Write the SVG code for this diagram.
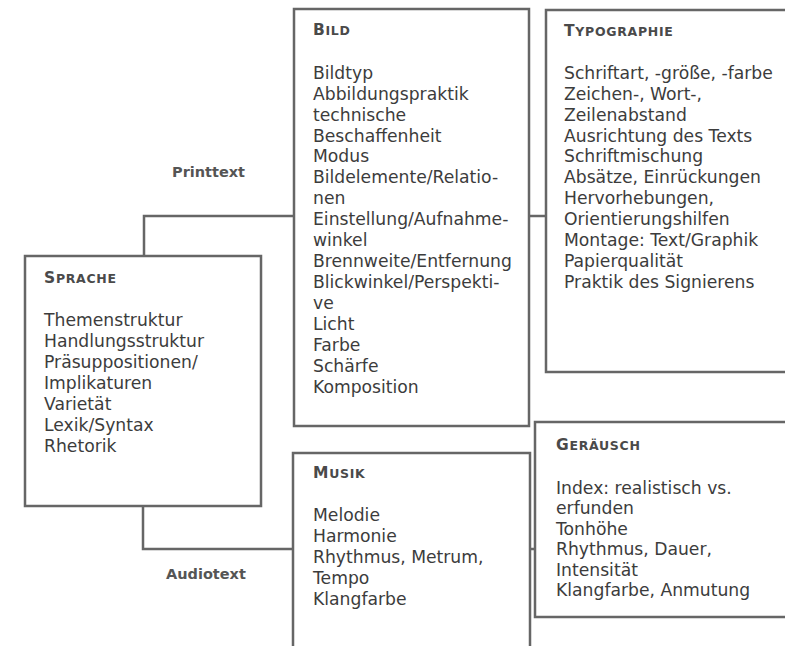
<svg xmlns="http://www.w3.org/2000/svg" width="785" height="646" viewBox="0 0 785 646">
<style>
.box{fill:#ffffff;stroke:#666;stroke-width:2.5}
.con{fill:none;stroke:#666;stroke-width:2.5}
.t{font-family:"DejaVu Sans",Verdana,sans-serif;font-size:17.2px;fill:#3c3c3c}
.h{font-family:"DejaVu Sans",Verdana,sans-serif;font-weight:bold;fill:#4a4a4a;letter-spacing:0.7px}
.h .c{font-size:15.5px}
.h .s{font-size:12.5px}
.lab{font-family:"DejaVu Sans",Verdana,sans-serif;font-weight:bold;font-size:14.5px;fill:#555}
</style>
<rect width="785" height="646" fill="#fff"/>
<g id="connectors">
<polyline class="con" points="144,256 144,216 294,216"/>
<line class="con" x1="529" y1="216" x2="546" y2="216"/>
<polyline class="con" points="143,506 143,549 293,549"/>
<line class="con" x1="530" y1="549" x2="535" y2="549"/>
<text class="lab" x="172" y="177">Printtext</text>
<text class="lab" x="166" y="579">Audiotext</text>
</g>
<g id="sprache">
<rect class="box" x="25" y="256" width="236" height="250"/>
<text class="h" x="44" y="283"><tspan class="c">S</tspan><tspan class="s">PRACHE</tspan></text>
<text class="t" x="44" y="326">
<tspan x="44" y="326">Themenstruktur</tspan>
<tspan x="44" y="347">Handlungsstruktur</tspan>
<tspan x="44" y="368">Präsuppositionen/</tspan>
<tspan x="44" y="389">Implikaturen</tspan>
<tspan x="44" y="410">Varietät</tspan>
<tspan x="44" y="431">Lexik/Syntax</tspan>
<tspan x="44" y="452">Rhetorik</tspan>
</text>
</g>
<g id="bild">
<rect class="box" x="294" y="9" width="235" height="417"/>
<text class="h" x="313" y="35"><tspan class="c">B</tspan><tspan class="s">ILD</tspan></text>
<text class="t">
<tspan x="313" y="79">Bildtyp</tspan>
<tspan x="313" y="100">Abbildungspraktik</tspan>
<tspan x="313" y="121">technische</tspan>
<tspan x="313" y="142">Beschaffenheit</tspan>
<tspan x="313" y="162">Modus</tspan>
<tspan x="313" y="183">Bildelemente/Relatio-</tspan>
<tspan x="313" y="204">nen</tspan>
<tspan x="313" y="225">Einstellung/Aufnahme-</tspan>
<tspan x="313" y="246">winkel</tspan>
<tspan x="313" y="267">Brennweite/Entfernung</tspan>
<tspan x="313" y="288">Blickwinkel/Perspekti-</tspan>
<tspan x="313" y="309">ve</tspan>
<tspan x="313" y="330">Licht</tspan>
<tspan x="313" y="351">Farbe</tspan>
<tspan x="313" y="372">Schärfe</tspan>
<tspan x="313" y="393">Komposition</tspan>
</text>
</g>
<g id="typographie">
<rect class="box" x="546" y="10" width="250" height="362"/>
<text class="h" x="564" y="36"><tspan class="c">T</tspan><tspan class="s">YPOGRAPHIE</tspan></text>
<text class="t">
<tspan x="564" y="79">Schriftart, -größe, -farbe</tspan>
<tspan x="564" y="100">Zeichen-, Wort-,</tspan>
<tspan x="564" y="121">Zeilenabstand</tspan>
<tspan x="564" y="142">Ausrichtung des Texts</tspan>
<tspan x="564" y="162">Schriftmischung</tspan>
<tspan x="564" y="183">Absätze, Einrückungen</tspan>
<tspan x="564" y="204">Hervorhebungen,</tspan>
<tspan x="564" y="225">Orientierungshilfen</tspan>
<tspan x="564" y="246">Montage: Text/Graphik</tspan>
<tspan x="564" y="267">Papierqualität</tspan>
<tspan x="564" y="288">Praktik des Signierens</tspan>
</text>
</g>
<g id="musik">
<rect class="box" x="293" y="453" width="237" height="210"/>
<text class="h" x="313" y="478"><tspan class="c">M</tspan><tspan class="s">USIK</tspan></text>
<text class="t">
<tspan x="313" y="521">Melodie</tspan>
<tspan x="313" y="542">Harmonie</tspan>
<tspan x="313" y="563">Rhythmus, Metrum,</tspan>
<tspan x="313" y="584">Tempo</tspan>
<tspan x="313" y="605">Klangfarbe</tspan>
</text>
</g>
<g id="geraeusch">
<rect class="box" x="535" y="422" width="260" height="195"/>
<text class="h" x="556" y="450"><tspan class="c">G</tspan><tspan class="s">ERÄUSCH</tspan></text>
<text class="t">
<tspan x="556" y="494">Index: realistisch vs.</tspan>
<tspan x="556" y="514">erfunden</tspan>
<tspan x="556" y="535">Tonhöhe</tspan>
<tspan x="556" y="555">Rhythmus, Dauer,</tspan>
<tspan x="556" y="576">Intensität</tspan>
<tspan x="556" y="596">Klangfarbe, Anmutung</tspan>
</text>
</g>
</svg>
